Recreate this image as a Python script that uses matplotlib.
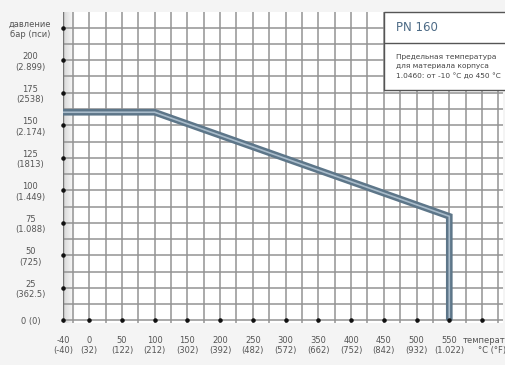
import numpy as np
import matplotlib
matplotlib.use('Agg')
import matplotlib.pyplot as plt
import matplotlib.transforms as mtransforms
from matplotlib.patches import Rectangle

# pressure/temperature rating curve
temp_c = [-40, 100, 550, 550]
pressure_bar = [160, 160, 80, 0]

x_ticks = [-40, 0, 50, 100, 150, 200, 250, 300, 350, 400, 450, 500, 550, 600]
x_labels = ['-40\n(-40)', '0\n(32)', '50\n(122)', '100\n(212)', '150\n(302)',
            '200\n(392)', '250\n(482)', '300\n(572)', '350\n(662)', '400\n(752)',
            '450\n(842)', '500\n(932)', '550\n(1.022)', 'температура\n°C (°F)']
y_ticks = [0, 25, 50, 75, 100, 125, 150, 175, 200, 225]
y_labels = ['0 (0)', '25\n(362.5)', '50\n(725)', '75\n(1.088)', '100\n(1.449)',
            '125\n(1813)', '150\n(2.174)', '175\n(2538)', '200\n(2.899)',
            'давление\nбар (пси)']

box_title = 'PN 160'
box_text = 'Предельная температура\nдля материала корпуса\n1.0460: от -10 °C до 450 °C'

plt.rcParams['font.family'] = ['DejaVu Sans']

fig = plt.figure(figsize=(5.06, 3.65), dpi=100, facecolor='#f4f4f4')
ax = fig.add_axes([0.1245, 0.115, 0.8695, 0.852])
ax.set_facecolor('white')

xmin, xmax = -40, 632
ymin, ymax = -2, 237
ax.set_xlim(xmin, xmax)
ax.set_ylim(ymin, ymax)

# soft shading along the left axis
grad = np.linspace(0, 1, 64).reshape(1, -1)
ax.imshow(grad, cmap=matplotlib.colors.LinearSegmentedColormap.from_list(
    'shade', ['#d6d6d6', '#ffffff']), extent=(xmin, -22, ymin, ymax),
    aspect='auto', zorder=0.5)

# grid
for gx in np.arange(-25, xmax, 25):
    ax.axvline(gx, color='#939393', lw=1.1, zorder=1)
for gy in np.arange(0, ymax, 12.5):
    ax.axhline(gy, color='#939393', lw=1.1, zorder=1)

for s in ax.spines.values():
    s.set_visible(False)
ax.axvline(xmin, color='#777777', lw=1.0, zorder=1)

# rating line: darker outer stroke with light inner stripe
ax.plot(temp_c, pressure_bar, color='#5d7689', lw=4.8, solid_joinstyle='miter',
        solid_capstyle='butt', zorder=3)
ax.plot(temp_c, pressure_bar, color='#a9bccb', lw=1.2, solid_joinstyle='miter',
        solid_capstyle='butt', zorder=4)

# tick dots
ax.scatter([xmin] * len(y_ticks), y_ticks, s=5, color='#111111', zorder=5, clip_on=False)
ax.scatter(x_ticks[1:], [0] * (len(x_ticks) - 1), s=5, color='#111111', zorder=5, clip_on=False)

ax.set_xticks(x_ticks)
ax.set_xticklabels(x_labels)
ax.set_yticks(y_ticks)
ax.set_yticklabels(y_labels)
ax.tick_params(axis='both', length=0, labelsize=6.0, labelcolor='#555555')
ax.tick_params(axis='x', pad=9)
ax.tick_params(axis='y', pad=23.5)
for lab in ax.get_yticklabels():
    lab.set_horizontalalignment('center')
    lab.set_multialignment('center')
for lab in ax.get_xticklabels():
    lab.set_multialignment('center')
# axis title sits a bit right of its tick, cut by the edge
last = ax.get_xticklabels()[-1]
last.set_transform(last.get_transform() +
                   mtransforms.ScaledTranslation(10 / 100, 0, fig.dpi_scale_trans))

# info box in the upper right
bx0 = 450
ax.add_patch(Rectangle((bx0, 177), xmax - bx0 + 5, ymax - 177,
                       facecolor='white', edgecolor='#555555', lw=1.0, zorder=6,
                       clip_on=False))
ax.plot([bx0, xmax + 5], [213.5, 213.5], color='#555555', lw=1.0, zorder=7, clip_on=False)
ax.text(bx0 + 18, 225.5, box_title, fontsize=8.5, color='#4d6b86', va='center',
        ha='left', zorder=8)
ax.text(bx0 + 18, 195, box_text, fontsize=5.3, color='#444444', va='center',
        ha='left', linespacing=1.55, zorder=8)

fig.savefig('out.png', dpi=100, facecolor=fig.get_facecolor())
